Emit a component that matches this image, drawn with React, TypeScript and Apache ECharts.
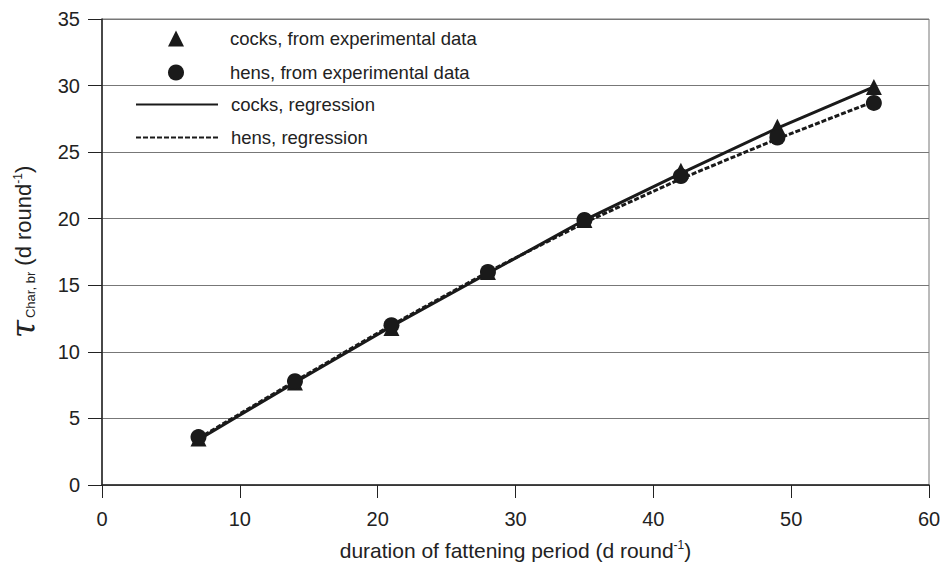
import React, { useEffect, useRef } from "react";
import * as echarts from "echarts";

const days = [7, 14, 21, 28, 35, 42, 49, 56];
const cocksData = [3.5, 7.7, 11.8, 16.0, 19.9, 23.6, 26.9, 29.9];
const hensData = [3.6, 7.8, 12.0, 16.0, 19.9, 23.2, 26.1, 28.7];
const cocksRegression = [3.4, 7.7, 11.9, 15.9, 19.9, 23.4, 26.8, 29.9];
const hensRegression = [3.5, 7.8, 12.0, 16.0, 19.7, 23.0, 26.0, 28.8];
const seriesNames = [
  "cocks, from experimental data",
  "hens, from experimental data",
  "cocks, regression",
  "hens, regression",
];

const pairs = (ys: number[]) => days.map((d, i) => [d, ys[i]]);

export default function App() {
  const ref = useRef<HTMLDivElement>(null);
  useEffect(() => {
    const chart = echarts.init(ref.current!, null, { renderer: "svg" });
    const font = "Liberation Sans, Arial, sans-serif";
    const ink = "#1a1a1a";
    chart.setOption({
      animation: false,
      textStyle: { fontFamily: font },
      grid: {
        left: 102,
        right: 15,
        top: 19,
        bottom: 85,
        containLabel: false,
        outerBoundsMode: "none",
        show: true,
        borderColor: "#777",
        borderWidth: 1,
      },
      legend: [
        {
          orient: "vertical",
          left: 163,
          top: 24,
          itemWidth: 16,
          itemHeight: 16,
          itemGap: 15,
          data: [seriesNames[0], seriesNames[1]],
          itemStyle: { opacity: 1 },
          textStyle: { fontSize: 18.5, lineHeight: 16, color: "#222", fontFamily: font, padding: [0, 0, 0, 41] },
        },
        {
          orient: "vertical",
          left: 130,
          top: 90,
          itemWidth: 82,
          itemHeight: 16,
          itemGap: 14,
          data: [seriesNames[2], seriesNames[3]],
          itemStyle: { opacity: 0 },
          textStyle: { fontSize: 18.5, lineHeight: 16, color: "#222", fontFamily: font, padding: [0, 0, 0, 8] },
        },
      ],
      xAxis: {
        type: "value",
        min: 0,
        max: 60,
        interval: 10,
        name: "duration of fattening period (d round{sup|-1})",
        nameLocation: "middle",
        nameGap: 54,
        nameTextStyle: {
          fontSize: 21,
          color: "#222",
          fontFamily: font,
          rich: { sup: { fontSize: 12, padding: [0, 0, 10, 0] } },
        },
        axisLine: { lineStyle: { color: "#222", width: 1.5 } },
        axisTick: { length: 13, lineStyle: { color: "#222", width: 1 } },
        axisLabel: { fontSize: 20, color: "#222", margin: 24, fontFamily: font },
        splitLine: { show: false },
      },
      yAxis: {
        type: "value",
        min: 0,
        max: 35,
        interval: 5,
        name: "{tau|τ}{sub|Char, br} (d round{sup|-1})",
        nameLocation: "middle",
        nameGap: 64,
        nameRotate: 90,
        nameTextStyle: {
          fontSize: 22,
          color: "#222",
          fontFamily: font,
          lineHeight: 30,
          rich: {
            tau: { fontSize: 33, lineHeight: 30, fontStyle: "italic", fontFamily: "DejaVu Serif, serif" },
            sub: { fontSize: 13, padding: [14, 0, 0, 2] },
            sup: { fontSize: 12, padding: [0, 0, 11, 0] },
          },
        },
        axisLine: { show: true, lineStyle: { color: "#222", width: 1.5 } },
        axisTick: { show: true, length: 14, lineStyle: { color: "#222", width: 1 } },
        axisLabel: { fontSize: 20, color: "#222", margin: 22, fontFamily: font },
        splitLine: { show: true, lineStyle: { color: "#777", width: 1 } },
      },
      series: [
        {
          name: seriesNames[2],
          type: "line",
          data: pairs(cocksRegression),
          showSymbol: false,
          symbol: "none",
          lineStyle: { color: ink, width: 3, type: "solid" },
          itemStyle: { color: ink },
          z: 2,
        },
        {
          name: seriesNames[3],
          type: "line",
          data: pairs(hensRegression),
          showSymbol: false,
          symbol: "none",
          lineStyle: { color: ink, width: 3, type: [5, 2] },
          itemStyle: { color: ink },
          z: 2,
        },
        {
          name: seriesNames[0],
          type: "scatter",
          data: pairs(cocksData),
          symbol: "triangle",
          symbolSize: 16,
          itemStyle: { color: ink, opacity: 1 },
          z: 3,
        },
        {
          name: seriesNames[1],
          type: "scatter",
          data: pairs(hensData),
          symbol: "circle",
          symbolSize: 16,
          itemStyle: { color: ink, opacity: 1 },
          z: 4,
        },
      ],
    });
    return () => chart.dispose();
  }, []);
  return <div ref={ref} style={{ width: 944, height: 570, position: "absolute", left: 0, top: 0 }} />;
}
